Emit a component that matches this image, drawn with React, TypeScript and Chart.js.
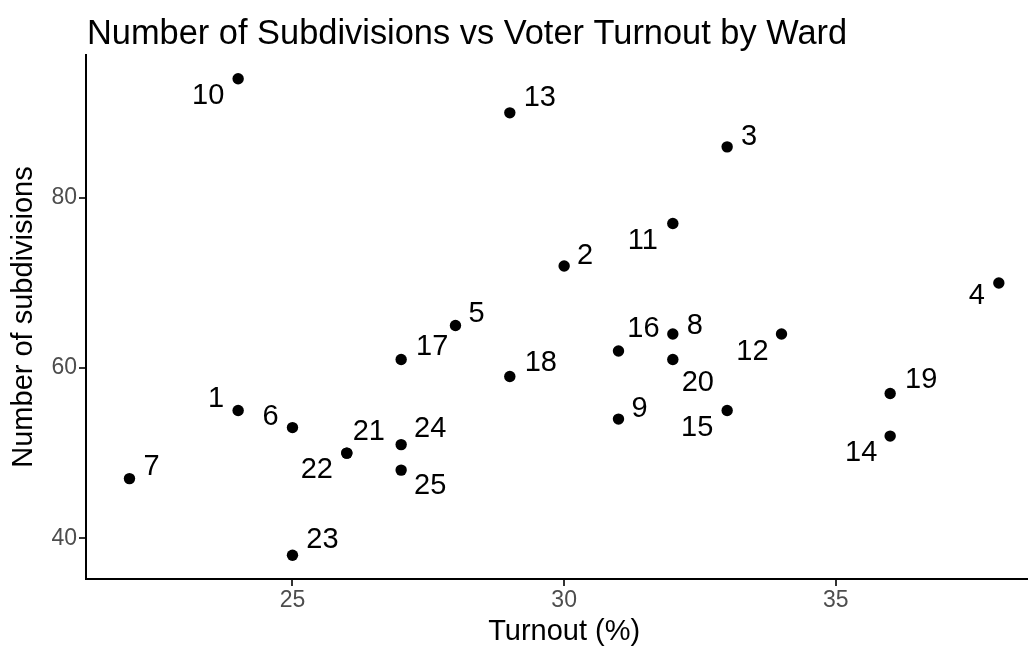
import React, { useEffect, useRef } from "react";
import { Chart, registerables } from "chart.js";

Chart.register(...registerables);

// ---- data ----
const wards = ["1", "2", "3", "4", "5", "6", "7", "8", "9", "10", "11", "12", "13", "14", "15", "16", "17", "18", "19", "20", "21", "22", "23", "24", "25"];
const turnout = [24, 30, 33, 38, 28, 25, 22, 32, 31, 24, 32, 34, 29, 36, 33, 31, 27, 29, 36, 32, 26, 26, 25, 27, 27];
const subdivisions = [55, 72, 86, 70, 65, 53, 47, 64, 54, 94, 77, 64, 90, 52, 55, 62, 61, 59, 57, 61, 50, 50, 38, 51, 48];
const xTickValues = [25, 30, 35];
const yTickValues = [40, 60, 80];
const chartTitle = "Number of Subdivisions vs Voter Turnout by Ward";
const xAxisTitle = "Turnout (%)";
const yAxisTitle = "Number of subdivisions";

// repelled label offsets (pixels from the point), one per ward
const labelDx = [-22, 21, 22, -22, 21, -22, 22, 22, 21, -30, -30, -29, 30, -29, -30, 25, 31, 31, 31, 25, 22, -30, 30, 29, 29];
const labelDy = [-12, -10, -10, 13, -12, -11, -12, -8, -10, 17, 18, 18, -15, 17, 17, -22, -13, -14, -14, 23, -21, 17, -15, -16, 16];

const FONT = "'Liberation Sans', Arial, Helvetica, sans-serif";

export default function App() {
  const ref = useRef<HTMLCanvasElement>(null);

  useEffect(() => {
    document.body.style.margin = "0";
    const canvas = ref.current;
    if (!canvas) return;

    const labelPlugin = {
      id: "wardLabels",
      afterDatasetsDraw(chart: any) {
        const c = chart.ctx;
        const meta = chart.getDatasetMeta(0);
        c.save();
        c.font = `29px ${FONT}`;
        c.fillStyle = "#000000";
        c.textAlign = "center";
        c.textBaseline = "middle";
        meta.data.forEach((pt: any, i: number) => {
          c.fillText(wards[i], pt.x + labelDx[i], pt.y + labelDy[i]);
        });
        c.restore();
      },
    };

    const titlePlugin = {
      id: "ggTitle",
      afterDraw(chart: any) {
        const c = chart.ctx;
        c.save();
        c.font = `34.4px ${FONT}`;
        c.fillStyle = "#000000";
        c.textAlign = "left";
        c.textBaseline = "alphabetic";
        c.fillText(chartTitle, chart.chartArea.left + 1, 44);
        c.restore();
      },
    };

    const chart = new Chart(canvas, {
      type: "scatter",
      data: {
        datasets: [
          {
            label: "Wards",
            data: turnout.map((t, i) => ({ x: t, y: subdivisions[i] })),
            backgroundColor: "#000000",
            borderColor: "#000000",
            borderWidth: 0,
            pointRadius: 5.7,
            pointHoverRadius: 5.7,
          },
        ],
      },
      options: {
        responsive: false,
        animation: false,
        events: [],
        layout: { padding: { top: 55, right: 5, left: 0, bottom: 0 } },
        plugins: {
          legend: { display: false },
          tooltip: { enabled: false },
          title: { display: false },
        },
        scales: {
          x: {
            type: "linear",
            min: 21.2,
            max: 38.8,
            afterBuildTicks: (s: any) => {
              s.ticks = xTickValues.map((v) => ({ value: v }));
            },
            afterFit: (s: any) => {
              s.height = 74;
            },
            ticks: {
              color: "#4D4D4D",
              font: { family: FONT, size: 23 },
              padding: 1,
            },
            grid: {
              display: true,
              drawOnChartArea: false,
              drawTicks: true,
              tickLength: 7,
              color: "#333333",
              lineWidth: 2,
            },
            border: { display: true, color: "#000000", width: 2 },
            title: {
              display: true,
              text: xAxisTitle,
              color: "#000000",
              font: { family: FONT, size: 29 },
              padding: { top: 0, bottom: 4 },
            },
          },
          y: {
            type: "linear",
            min: 35.2,
            max: 96.8,
            afterBuildTicks: (s: any) => {
              s.ticks = yTickValues.map((v) => ({ value: v }));
            },
            afterFit: (s: any) => {
              s.width = 86;
            },
            ticks: {
              color: "#4D4D4D",
              font: { family: FONT, size: 23 },
              padding: 2,
            },
            grid: {
              display: true,
              drawOnChartArea: false,
              drawTicks: true,
              tickLength: 7,
              color: "#333333",
              lineWidth: 2,
            },
            border: { display: true, color: "#000000", width: 2 },
            title: {
              display: true,
              text: yAxisTitle,
              color: "#000000",
              font: { family: FONT, size: 29 },
              padding: { top: 7, bottom: 0 },
            },
          },
        },
      },
      plugins: [labelPlugin, titlePlugin],
    });

    return () => {
      chart.destroy();
    };
  }, []);

  return (
    <div style={{ width: 1028, height: 653, overflow: "hidden", background: "#ffffff" }}>
      <canvas ref={ref} width={1048} height={653} style={{ display: "block" }} />
    </div>
  );
}
